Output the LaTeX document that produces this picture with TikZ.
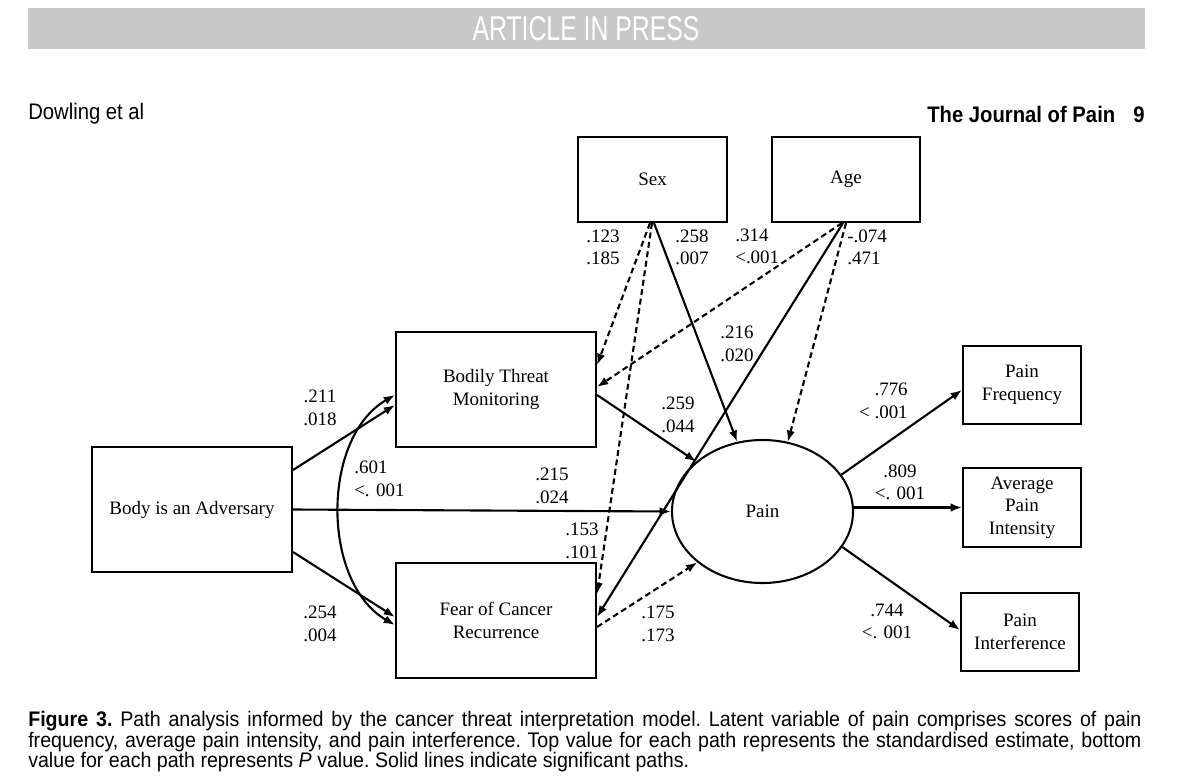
\documentclass[tikz,border=0pt]{standalone}
\usepackage{fontspec}
\usepackage{graphicx}
\setmainfont{Liberation Serif}
\newfontfamily\hdrfont{Liberation Sans}
\usetikzlibrary{arrows.meta,calc,shapes.geometric}
\definecolor{hdrgray}{RGB}{200,200,200}
\newcommand\dfont{\fontsize{13.5}{16}\selectfont}
\tikzset{
  box/.style={draw, line width=1.45pt, rectangle, inner sep=0pt, align=center, font=\dfont},
  lbl/.style={align=center, inner sep=0pt, font=\dfont},
  arr/.style={line width=1.5pt, -{Latex[length=8pt,width=6pt]}},
  dsh/.style={arr, dash pattern=on 4.2pt off 2.6pt},
}
\begin{document}
\begin{tikzpicture}[x=0.025cm,y=-0.025cm]
\useasboundingbox (0,0) rectangle (1200,782);
% header
\fill[hdrgray] (28,8) rectangle (1145,49);
\node[text=white, inner sep=0] (hdr) at (586,29) {\hdrfont\fontsize{24.5}{25}\selectfont\scalebox{0.72}[1]{ARTICLE IN PRESS}};
\node[anchor=west, inner sep=0] (auth) at (28,114) {\hdrfont\fontsize{16}{16}\selectfont\scalebox{0.9}[1]{Dowling et al}};
\node[anchor=east, inner sep=0] (jrn) at (1145,114) {\hdrfont\bfseries\fontsize{16}{16}\selectfont\scalebox{0.9}[1]{The Journal of Pain\hspace{0.9em}9}};

% boxes
\node[box, minimum width=3.725cm, minimum height=2.125cm] (sex) at (652.5,179.5) {Sex};
\node[box, minimum width=3.7cm, minimum height=2.125cm] (age) at (846,179.5) {Age};
\node[box, minimum width=5cm, minimum height=2.875cm] (btm) at (496,389.5) {Bodily Threat\\Monitoring};
\node[box, minimum width=5cm, minimum height=3.125cm] (body) at (192,509.5) {Body is an Adversary};
\node[box, minimum width=5cm, minimum height=2.875cm] (fcr) at (496,620.5) {Fear of Cancer\\Recurrence};
\node[box, minimum width=2.95cm, minimum height=1.95cm] (pf) at (1022,385) {Pain\\Frequency};
\node[box, minimum width=2.95cm, minimum height=1.975cm] (api) at (1022,507.5) {Average\\Pain\\Intensity};
\node[box, minimum width=2.95cm, minimum height=1.95cm] (pi) at (1020,632) {Pain\\Interference};
\node[box, ellipse, minimum width=4.525cm, minimum height=3.575cm] (pain) at (762.5,511.5) {Pain};

% paths from Body is an Adversary
\draw[arr] ([yshift=0.9875cm]body.east) -- ([yshift=-0.3875cm]btm.west);
\draw[arr] ([yshift=-1.0625cm]body.east) -- ([yshift=0.0875cm]fcr.west);
\draw[arr] (body.east) -- (pain.west);
\draw[line width=1.5pt, {Latex[length=8pt,width=6pt]}-{Latex[length=8pt,width=6pt]}]
  ([yshift=-0.1375cm]btm.west) to[out=210, in=150, looseness=0.95] ([yshift=-0.1125cm]fcr.west);

% mediators to pain
\draw[arr] ([yshift=-0.1375cm]btm.east) -- (pain.143);
\draw[dsh] ([yshift=-0.1625cm]fcr.east) -- (pain.218);

% sex and age
\draw[dsh] ([xshift=-0.0625cm]sex.south) -- ([yshift=0.6125cm]btm.east);
\draw[dsh] ([xshift=-0.1cm]age.south) -- ([yshift=0.0625cm]btm.east);
\draw[dsh] ([xshift=-0.0125cm]sex.south) -- ([yshift=0.6625cm]fcr.east);
\draw[arr] ([xshift=-0.075cm]age.south) -- ([yshift=0.0875cm]fcr.east);
\draw[arr] ([xshift=0.0375cm]sex.south) -- (pain.110);
\draw[dsh] (age.south) -- (pain.70);

% indicators
\draw[arr] (pain.25) -- ([yshift=-0.125cm]pf.west);
\draw[arr] (pain.east |- api.west) -- (api.west);
\draw[arr] (pain.-24) -- ([yshift=0.05cm]pi.west);

% labels
\node[lbl] (l1) at (320,408) {.211\\.018};
\node[lbl, anchor=west, align=left] (l2) at (354,479) {.601\\<. 001};
\node[lbl] (l3) at (320,624) {.254\\.004};
\node[lbl] (l4) at (552,486) {.215\\.024};
\node[lbl] (l5) at (582,541) {.153\\.101};
\node[lbl] (l6) at (678,415) {.259\\.044};
\node[lbl] (l7) at (658,624) {.175\\.173};
\node[lbl] (l8) at (603,247.5) {.123\\.185};
\node[lbl] (l9) at (692,247.5) {.258\\.007};
\node[lbl, anchor=west, align=left] (l10) at (735,246.5) {.314\\<.001};
\node[lbl, anchor=west, align=left] (l11) at (847,247.5) {-.074\\.471};
\node[lbl] (l12) at (737,344) {.216\\.020};
\node[lbl, anchor=east, align=right] (l13) at (908,401) {.776\\< .001};
\node[lbl] (l14) at (900,482.5) {.809\\<. 001};
\node[lbl] (l15) at (887,621.5) {.744\\<. 001};

% caption
\node[anchor=north west, inner sep=0] (cap) at (28,711) {\hdrfont\fontsize{15}{14.6}\selectfont\scalebox{0.93}[1]{\parbox{851.2pt}{\hyphenpenalty=10000\frenchspacing
\textbf{Figure 3.} Path analysis informed by the cancer threat interpretation model. Latent variable of pain comprises scores of pain\linebreak
frequency, average pain intensity, and pain interference. Top value for each path represents the standardised estimate, bottom\linebreak
value for each path represents \textit{P} value. Solid lines indicate significant paths.}}};
\end{tikzpicture}
\end{document}
